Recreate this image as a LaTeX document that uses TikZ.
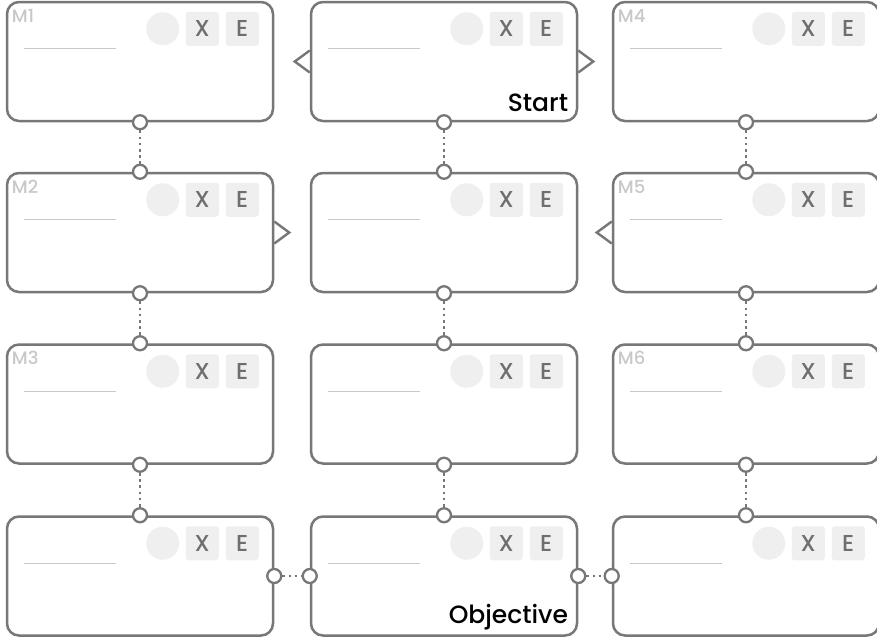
\documentclass[tikz,border=0pt]{standalone}
\usepackage{fontspec}
\setmainfont{Poppins}[UprightFont=* Medium]
\usetikzlibrary{positioning}

\definecolor{edge}{HTML}{777777}
\definecolor{pale}{HTML}{EFEFEF}
\definecolor{faint}{HTML}{C8C8C8}
\definecolor{ink}{HTML}{6E6E6E}

\tikzset{
  card/.style={draw=edge, line width=2.5pt, rounded corners=12pt, fill=white,
    minimum width=266pt, minimum height=119pt, inner sep=0pt},
  port/.style={circle, draw=edge, line width=2.3pt, fill=white,
    minimum size=14pt, inner sep=0pt},
  link/.style={draw=edge, line width=2.8pt, dash pattern=on 2.6pt off 3.6pt},
  keybox/.style={fill=pale, rounded corners=3pt, minimum width=33pt,
    minimum height=34pt, inner sep=0pt, text=ink, font=\fontsize{23}{26}\selectfont},
  dot/.style={circle, fill=pale, minimum size=33pt, inner sep=0pt},
  tag/.style={text=faint, font=\fontsize{18}{20}\selectfont, inner sep=0pt, anchor=west},
  blank/.style={draw=faint, line width=1.2pt},
  pointer/.style={draw=edge, line width=2.4pt, line join=miter},
  caption/.style={font=\fontsize{25}{28}\selectfont, inner sep=0pt, anchor=base east},
}

\begin{document}
\begin{tikzpicture}[x=1pt,y=1pt]
  \fill[white] (0,0) rectangle (877,-641);
  \useasboundingbox (0,0) rectangle (877,-641);

  % the twelve cards
  \foreach \row/\y in {1/-61.5, 2/-232.5, 3/-404, 4/-576}
  \foreach \col/\x in {1/140, 2/444, 3/746} {
    \node[card] (b\row\col) at (\x,\y) {};
    \node[dot] (d\row\col) at ([xshift=157pt,yshift=-28pt]b\row\col.north west) {};
    \node[keybox] (x\row\col) at ([xshift=196.5pt,yshift=-28pt]b\row\col.north west) {X};
    \node[keybox] (e\row\col) at ([xshift=236.5pt,yshift=-28pt]b\row\col.north west) {E};
    \draw[blank] ([xshift=18pt,yshift=-48pt]b\row\col.north west) -- ++(92pt,0);
  }

  \node[tag] (m1) at ([xshift=6pt,yshift=-15pt]b11.north west) {M1};
  \node[tag] (m2) at ([xshift=6pt,yshift=-15pt]b21.north west) {M2};
  \node[tag] (m3) at ([xshift=6pt,yshift=-15pt]b31.north west) {M3};
  \node[tag] (m4) at ([xshift=6pt,yshift=-15pt]b13.north west) {M4};
  \node[tag] (m5) at ([xshift=6pt,yshift=-15pt]b23.north west) {M5};
  \node[tag] (m6) at ([xshift=6pt,yshift=-15pt]b33.north west) {M6};

  \node[caption] (start) at ([xshift=-10pt,yshift=11pt]b12.south east) {Start};
  \node[caption] (goal) at ([xshift=-10pt,yshift=13pt]b42.south east) {Objective};

  % vertical links
  \foreach \col in {1,2,3}
  \foreach \row/\next in {1/2, 2/3, 3/4} {
    \node[port] (s\row\col) at (b\row\col.south) {};
    \node[port] (n\next\col) at (b\next\col.north) {};
    \draw[link] (s\row\col) -- (n\next\col);
  }

  % bottom row links
  \node[port] (pe41) at (b41.east) {};
  \node[port] (pw42) at (b42.west) {};
  \draw[link] (pe41) -- (pw42);
  \node[port] (pe42) at (b42.east) {};
  \node[port] (pw43) at (b43.west) {};
  \draw[link] (pe42) -- (pw43);

  % side pointers
  \draw[pointer] ([yshift=11pt]b12.west) -- ++(-15pt,-11pt) -- ++(15pt,-11pt);
  \draw[pointer] ([yshift=11pt]b12.east) -- ++(15pt,-11pt) -- ++(-15pt,-11pt);
  \draw[pointer] ([yshift=11pt]b21.east) -- ++(15pt,-11pt) -- ++(-15pt,-11pt);
  \draw[pointer] ([yshift=11pt]b23.west) -- ++(-15pt,-11pt) -- ++(15pt,-11pt);
\end{tikzpicture}
\end{document}
